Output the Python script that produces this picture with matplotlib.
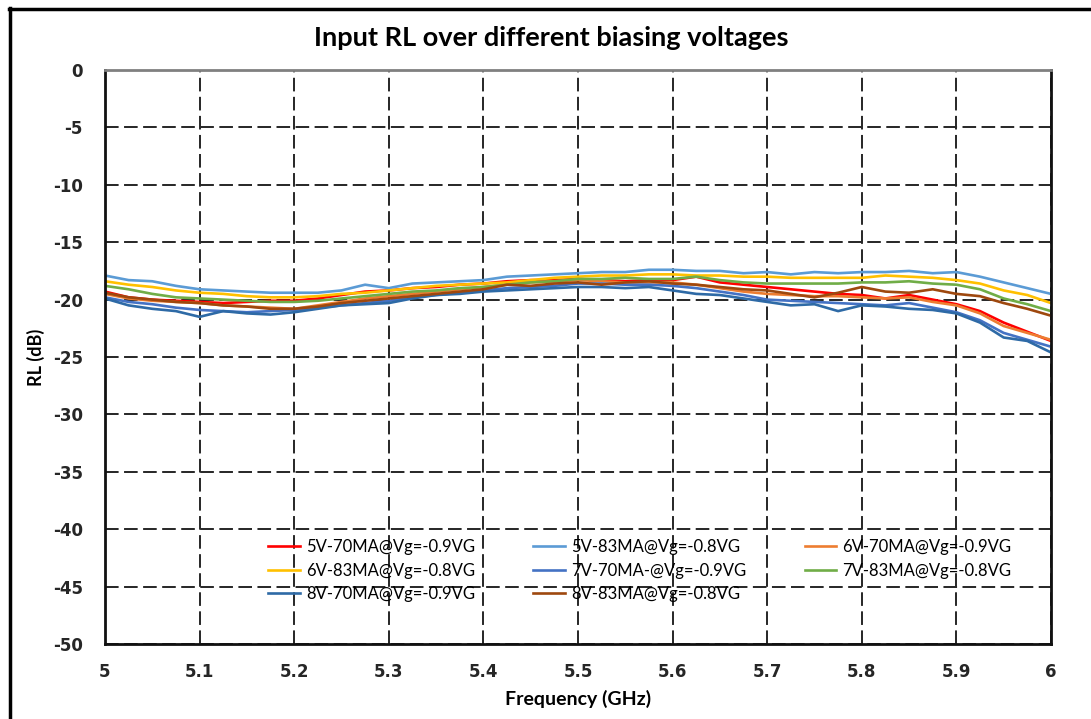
import matplotlib
matplotlib.use("Agg")
import matplotlib.pyplot as plt
from matplotlib.lines import Line2D
import numpy as np

plt.rcParams['axes.unicode_minus'] = False

# frequency points (GHz), 0.025 GHz step
freq = np.round(np.arange(5.0, 6.0001, 0.025), 3)

rl_5v_70 = [-19.3, -19.8, -20.0, -20.1, -20.2, -20.3, -20.2, -20.1, -20.1, -19.9,
            -19.6, -19.3, -19.2, -19.0, -18.9, -18.7, -18.6, -18.4, -18.3, -18.3,
            -18.2, -18.3, -18.4, -18.3, -18.3, -18.0, -18.5, -18.7, -18.9, -19.1,
            -19.3, -19.5, -19.6, -19.9, -19.6, -20.0, -20.4, -21.0, -22.0, -22.8, -23.6]
rl_5v_83 = [-17.9, -18.3, -18.4, -18.8, -19.1, -19.2, -19.3, -19.4, -19.4, -19.4,
            -19.2, -18.7, -19.0, -18.6, -18.5, -18.4, -18.3, -18.0, -17.9, -17.8,
            -17.7, -17.6, -17.6, -17.4, -17.4, -17.5, -17.5, -17.7, -17.6, -17.8,
            -17.6, -17.7, -17.6, -17.6, -17.5, -17.7, -17.6, -18.0, -18.5, -19.0, -19.5]
rl_6v_70 = [-19.5, -19.9, -20.1, -20.2, -20.3, -20.5, -20.6, -20.7, -20.8, -20.5,
            -20.2, -19.9, -19.7, -19.5, -19.3, -19.1, -18.9, -18.7, -18.5, -18.4,
            -18.3, -18.4, -18.5, -18.5, -18.5, -18.7, -19.0, -19.3, -19.5, -19.6,
            -19.7, -19.7, -19.8, -19.9, -19.8, -20.2, -20.5, -21.2, -22.3, -22.9, -23.5]
rl_6v_83 = [-18.4, -18.7, -18.9, -19.2, -19.4, -19.5, -19.7, -19.8, -19.8, -19.7,
            -19.5, -19.4, -19.2, -19.0, -18.8, -18.7, -18.6, -18.5, -18.3, -18.1,
            -18.0, -17.9, -17.9, -17.8, -17.8, -17.9, -17.9, -18.0, -18.0, -18.1,
            -18.1, -18.1, -18.1, -17.9, -18.0, -18.1, -18.3, -18.6, -19.2, -19.6, -20.3]
rl_7v_70 = [-19.8, -20.2, -20.4, -20.7, -20.9, -21.0, -21.1, -21.0, -20.9, -20.7,
            -20.5, -20.3, -20.1, -19.8, -19.6, -19.4, -19.2, -19.0, -18.9, -18.8,
            -18.6, -18.6, -18.7, -18.7, -18.8, -19.0, -19.3, -19.6, -20.0, -20.1,
            -20.2, -20.3, -20.4, -20.5, -20.3, -20.7, -21.1, -21.8, -22.9, -23.5, -24.1]
rl_7v_83 = [-18.8, -19.1, -19.5, -19.8, -19.9, -20.0, -20.1, -20.2, -20.2, -20.1,
            -19.9, -19.7, -19.5, -19.3, -19.2, -19.0, -18.9, -18.7, -18.5, -18.4,
            -18.2, -18.2, -18.1, -18.2, -18.2, -18.0, -18.3, -18.5, -18.6, -18.6,
            -18.6, -18.6, -18.5, -18.5, -18.4, -18.6, -18.7, -19.1, -19.9, -20.4, -21.0]
rl_8v_70 = [-19.9, -20.5, -20.8, -21.0, -21.5, -21.0, -21.2, -21.3, -21.1, -20.8,
            -20.5, -20.4, -20.3, -19.9, -19.6, -19.5, -19.3, -19.2, -19.1, -19.0,
            -18.9, -18.9, -19.0, -18.9, -19.2, -19.5, -19.6, -19.9, -20.2, -20.5,
            -20.4, -21.0, -20.5, -20.6, -20.8, -20.9, -21.2, -22.0, -23.3, -23.6, -24.6]
rl_8v_83 = [-19.4, -19.8, -20.0, -20.2, -20.3, -20.5, -20.6, -20.8, -20.8, -20.6,
            -20.3, -20.1, -19.9, -19.7, -19.5, -19.3, -19.1, -18.7, -18.8, -18.6,
            -18.5, -18.7, -18.5, -18.4, -18.6, -18.7, -18.9, -19.1, -19.2, -19.5,
            -19.8, -19.4, -18.9, -19.3, -19.4, -19.1, -19.5, -19.7, -20.3, -20.8, -21.4]

labels = ["5V-70MA@Vg=-0.9VG", "5V-83MA@Vg=-0.8VG", "6V-70MA@Vg=-0.9VG",
          "6V-83MA@Vg=-0.8VG", "7V-70MA-@Vg=-0.9VG", "7V-83MA@Vg=-0.8VG",
          "8V-70MA@Vg=-0.9VG", "8V-83MA@Vg=-0.8VG"]
series = [rl_5v_70, rl_5v_83, rl_6v_70, rl_6v_83, rl_7v_70, rl_7v_83, rl_8v_70, rl_8v_83]
colors = ["#FF0000", "#5B9BD5", "#ED7D31", "#FFC000", "#4472C4", "#70AD47", "#2E6AA6", "#9E480E"]

fig = plt.figure(figsize=(10.91, 7.19), dpi=100)
ax = fig.add_axes([0.0962, 0.1043, 0.8671, 0.7983])

lines = []
for vals, lab, col in zip(series, labels, colors):
    ln, = ax.plot(freq, vals, color=col, linewidth=1.9, label=lab)
    lines.append(ln)

ax.set_xlim(5, 6)
ax.set_ylim(-50, 0)
ax.set_xticks(np.round(np.arange(5, 6.01, 0.1), 1))
ax.set_xticklabels(["5", "5.1", "5.2", "5.3", "5.4", "5.5", "5.6", "5.7", "5.8", "5.9", "6"])
ax.set_yticks(range(-50, 1, 5))

# dashed grid like the excel chart
ax.grid(True, color="#262626", linestyle=(0, (7, 2.8)), linewidth=1.4)
ax.set_axisbelow(True)
ax.tick_params(axis="x", length=0, pad=14, labelsize=12)
ax.tick_params(axis="y", length=0, pad=16, labelsize=12)
for t in ax.get_xticklabels() + ax.get_yticklabels():
    t.set_fontweight("bold")
    t.set_color("#262626")

for side in ["left", "bottom", "right"]:
    ax.spines[side].set_linewidth(2)
    ax.spines[side].set_color("#111111")
ax.spines["top"].set_linewidth(2)
ax.spines["top"].set_color("#808080")

ax.set_xlabel("Frequency (GHz)", fontsize=14, fontweight="bold", family="Lato")
ax.xaxis.set_label_coords(0.5, -0.08)
ax.set_ylabel("RL (dB)", fontsize=13, fontweight="bold", family="Lato")
ax.yaxis.set_label_coords(-0.063, 0.5)
fig.text(0.505, 0.947, "Input RL over different biasing voltages", ha="center", va="center",
         fontsize=19.5, fontweight="bold", family="Lato")

# excel fills the legend row by row
order = [0, 3, 6, 1, 4, 7, 2, 5]
leg = ax.legend([lines[i] for i in order], [labels[i] for i in order], ncol=3,
                frameon=False, loc="upper left", bbox_to_anchor=(0.157, 0.209),
                prop={"family": "Lato", "size": 12}, handlelength=1.9,
                handletextpad=0.35, columnspacing=3.5, labelspacing=0.45)

# outer chart border (left and top only visible)
fig.add_artist(Line2D([9.5 / 1091, 9.5 / 1091], [0, 1 - 8 / 719], color="black", linewidth=2.5,
                      transform=fig.transFigure))
fig.add_artist(Line2D([9 / 1091, 1], [1 - 8.5 / 719, 1 - 8.5 / 719], color="black", linewidth=2.5,
                      transform=fig.transFigure))

plt.savefig("out.png", dpi=100)
